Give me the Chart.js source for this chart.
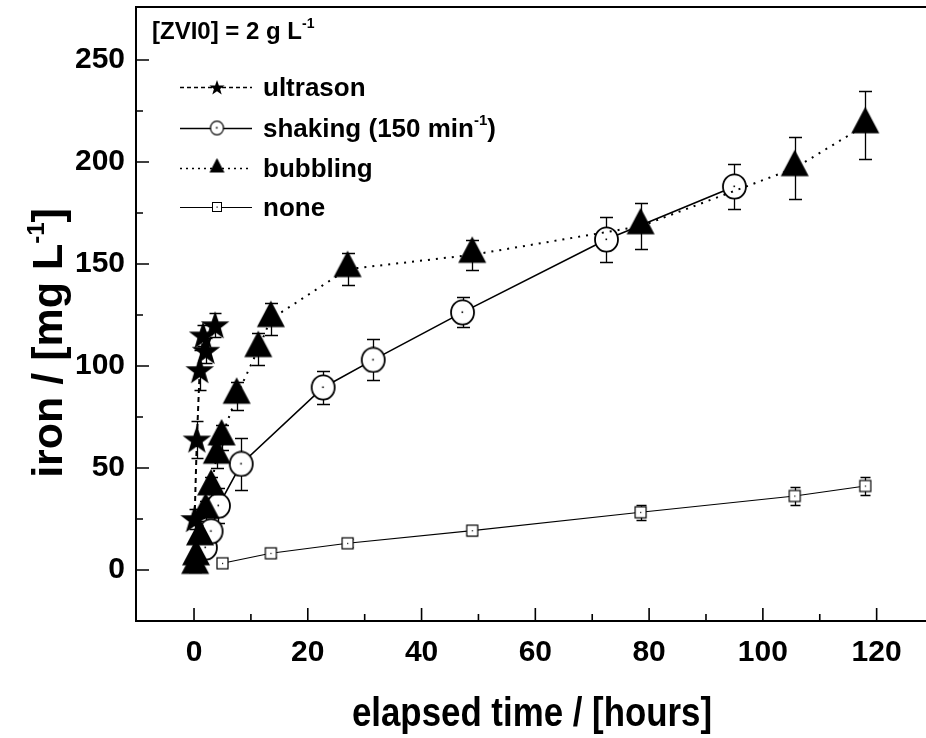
<!DOCTYPE html>
<html>
<head>
<meta charset="utf-8">
<title>iron vs elapsed time</title>
<script src="https://cdn.jsdelivr.net/npm/chart.js@4.4.1/dist/chart.umd.min.js"></script>
<style>
  html, body { margin: 0; padding: 0; background: #fff; }
  canvas { display: block; }
</style>
</head>
<body>
<canvas id="ironChart" width="926" height="738"></canvas>
<script>
// elapsed time [hours], iron [mg/L], error bar half-height [mg/L]
const ultraTime = [0.1, 0.5, 1.0, 1.6, 2.1, 3.7];
const ultraIron = [25, 64, 98, 115, 107.5, 120];
const ultraErr  = [5, 9, 10, 5, 6, 6];

const shakeTime = [2.0, 3.0, 4.3, 8.3, 22.7, 31.5, 47.2, 72.5, 95.0];
const shakeIron = [11, 19, 31.5, 52, 89.5, 103, 126.3, 162, 188];
const shakeErr  = [4, 5, 8.5, 12.7, 8, 10, 7.4, 11, 11];

const bubbleTime = [0.2, 0.35, 1.05, 2.05, 3.0, 4.0, 4.85, 7.5, 11.3, 13.5, 27.0, 48.9, 78.5, 105.6, 118.0];
const bubbleIron = [2, 6.2, 16, 29, 40.5, 56, 65, 85.4, 108.3, 123, 147.5, 154.5, 168.5, 197, 218];
const bubbleErr  = [3, 3, 4, 5, 5, 6, 6, 7, 8, 8, 8, 7.5, 11.2, 15.3, 16.7];

const noneTime = [5.0, 13.5, 27.0, 48.9, 78.5, 105.6, 118.0];
const noneIron = [3.3, 8.2, 13.1, 19.3, 28.3, 36.3, 41.2];
const noneErr  = [2, 2, 2, 2, 3.7, 4.6, 4.3];

const xTicks = [0, 20, 40, 60, 80, 100, 120];
const xMinor = [10, 30, 50, 70, 90, 110];
const yTicks = [0, 50, 100, 150, 200, 250];
const yMinor = [25, 75, 125, 175, 225];

const FONT = "'Liberation Sans', Arial, Helvetica, sans-serif";

function toPoints(xs, ys) {
  return xs.map((x, i) => ({ x: x, y: ys[i] }));
}

function makeCanvas(w, h) {
  const c = document.createElement('canvas');
  c.width = w;
  c.height = h;
  return c;
}

// marker images
function starMarker(r) {
  const s = Math.ceil(r * 2 + 2);
  const c = makeCanvas(s, s);
  const g = c.getContext('2d');
  g.fillStyle = '#000';
  g.beginPath();
  for (let i = 0; i < 10; i++) {
    const rr = i % 2 ? r * 0.4 : r;
    const a = -Math.PI / 2 + i * Math.PI / 5;
    g.lineTo(s / 2 + rr * Math.cos(a), s / 2 + 1 + rr * Math.sin(a));
  }
  g.closePath();
  g.fill();
  return c;
}

function circleMarker(r, lw) {
  const s = Math.ceil(r * 2 + lw + 2);
  const c = makeCanvas(s, s);
  const g = c.getContext('2d');
  g.fillStyle = '#fff';
  g.strokeStyle = '#000';
  g.lineWidth = lw;
  g.beginPath();
  g.ellipse(s / 2, s / 2, r, r * 1.06, 0, 0, Math.PI * 2);
  g.fill();
  g.stroke();
  g.fillStyle = '#000';
  g.fillRect(s / 2 - 1, s / 2 - 1, 1.6, 1.6);
  return c;
}

function triMarker(w, up, down) {
  const h = Math.ceil(Math.max(up, down) * 2 + 2);
  const cw = Math.ceil(w + 2);
  const c = makeCanvas(cw, h);
  const g = c.getContext('2d');
  g.fillStyle = '#000';
  g.beginPath();
  g.moveTo(cw / 2, h / 2 - up);
  g.lineTo(cw / 2 + w / 2, h / 2 + down);
  g.lineTo(cw / 2 - w / 2, h / 2 + down);
  g.closePath();
  g.fill();
  return c;
}

function squareMarker(size, lw) {
  const s = Math.ceil(size + lw + 2);
  const c = makeCanvas(s, s);
  const g = c.getContext('2d');
  g.fillStyle = '#fff';
  g.strokeStyle = '#000';
  g.lineWidth = lw;
  g.fillRect(s / 2 - size / 2, s / 2 - size / 2, size, size);
  g.strokeRect(s / 2 - size / 2, s / 2 - size / 2, size, size);
  g.fillStyle = '#000';
  g.fillRect(s / 2 - 0.5, s / 2 - 0.5, 1.2, 1.2);
  return c;
}

const starImg = starMarker(15);
const circleImg = circleMarker(11.5, 1.8);
const triImg = triMarker(28, 18.5, 8);
const squareImg = squareMarker(11, 1.2);

const starLeg = starMarker(8);
const circleLeg = circleMarker(6.5, 1.2);
const triLeg = triMarker(15, 10, 4.5);
const squareLeg = squareMarker(9, 1);

function drawRich(ctx, parts, x, y, align) {
  let total = 0;
  parts.forEach(p => { ctx.font = p[1]; total += ctx.measureText(p[0]).width; });
  let cx = align === 'center' ? x - total / 2 : x;
  parts.forEach(p => {
    ctx.font = p[1];
    ctx.fillText(p[0], cx, y + (p[2] || 0));
    cx += ctx.measureText(p[0]).width;
  });
}

const errorBars = {
  id: 'errorBars',
  beforeDatasetsDraw(chart) {
    const ctx = chart.ctx;
    const xs = chart.scales.x, ys = chart.scales.y;
    ctx.save();
    ctx.strokeStyle = '#000';
    ctx.lineWidth = 1.3;
    chart.data.datasets.forEach(ds => {
      const cap = ds.capHalf;
      ds.data.forEach((p, i) => {
        const x = Math.round(xs.getPixelForValue(p.x)) + 0.5;
        const y1 = Math.round(ys.getPixelForValue(p.y - ds.errors[i])) + 0.5;
        const y2 = Math.round(ys.getPixelForValue(p.y + ds.errors[i])) + 0.5;
        ctx.beginPath();
        ctx.moveTo(x, y1); ctx.lineTo(x, y2);
        ctx.moveTo(x - cap, y1); ctx.lineTo(x + cap, y1);
        ctx.moveTo(x - cap, y2); ctx.lineTo(x + cap, y2);
        ctx.stroke();
      });
    });
    ctx.restore();
  }
};

const frameAndText = {
  id: 'frameAndText',
  afterDraw(chart) {
    const ctx = chart.ctx;
    const a = chart.chartArea;
    const xs = chart.scales.x, ys = chart.scales.y;
    ctx.save();
    ctx.strokeStyle = '#000';
    ctx.lineWidth = 2;
    ctx.beginPath();
    ctx.moveTo(a.right + 2, a.top);
    ctx.lineTo(a.left, a.top);
    ctx.lineTo(a.left, a.bottom);
    ctx.lineTo(a.right + 2, a.bottom);
    ctx.stroke();

    // inward ticks
    ctx.lineWidth = 1.6;
    ctx.beginPath();
    yTicks.forEach(v => { const y = ys.getPixelForValue(v); ctx.moveTo(a.left, y); ctx.lineTo(a.left + 13, y); });
    yMinor.forEach(v => { const y = ys.getPixelForValue(v); ctx.moveTo(a.left, y); ctx.lineTo(a.left + 7, y); });
    xTicks.forEach(v => { const x = xs.getPixelForValue(v); ctx.moveTo(x, a.bottom); ctx.lineTo(x, a.bottom - 13); });
    xMinor.forEach(v => { const x = xs.getPixelForValue(v); ctx.moveTo(x, a.bottom); ctx.lineTo(x, a.bottom - 7); });
    ctx.stroke();

    ctx.fillStyle = '#000';
    ctx.textAlign = 'left';
    ctx.textBaseline = 'alphabetic';

    // axis titles
    ctx.save();
    ctx.translate(47, 343);
    ctx.rotate(-Math.PI / 2);
    drawRich(ctx, [
      ['iron / [mg L', 'bold 43px ' + FONT],
      ['-1', 'bold 24px ' + FONT, -18],
      [']', 'bold 43px ' + FONT]
    ], 0, 15, 'center');
    ctx.restore();

    ctx.save();
    ctx.translate(532, 726);
    ctx.scale(0.85, 1);
    drawRich(ctx, [['elapsed time / [hours]', 'bold 41px ' + FONT]], 0, 0, 'center');
    ctx.restore();

    // annotation
    drawRich(ctx, [
      ['[ZVI0] = 2 g L', 'bold 24px ' + FONT],
      ['-1', 'bold 14px ' + FONT, -11]
    ], 152, 39, 'left');

    // legend
    const rows = [
      { y: 87, img: starLeg, dash: [4, 3], lw: 1.6, parts: [['ultrason', 'bold 26px ' + FONT]] },
      { y: 128, img: circleLeg, dash: [], lw: 1.6, parts: [['shaking (150 min', 'bold 26px ' + FONT], ['-1', 'bold 15px ' + FONT, -12], [')', 'bold 26px ' + FONT]] },
      { y: 168, img: triLeg, dash: [2, 4], lw: 1.6, parts: [['bubbling', 'bold 26px ' + FONT]] },
      { y: 207, img: squareLeg, dash: [], lw: 1.1, parts: [['none', 'bold 26px ' + FONT]] }
    ];
    rows.forEach(r => {
      ctx.save();
      ctx.lineWidth = r.lw;
      ctx.setLineDash(r.dash);
      ctx.beginPath();
      ctx.moveTo(180, r.y + 0.5);
      ctx.lineTo(252, r.y + 0.5);
      ctx.stroke();
      ctx.restore();
      ctx.drawImage(r.img, 217 - r.img.width / 2, r.y - r.img.height / 2);
      drawRich(ctx, r.parts, 263, r.y + 9, 'left');
    });
    ctx.restore();
  }
};

const tickFont = { family: FONT, size: 30, weight: 'bold' };

// small radius keeps Chart.js from reserving extra room round the plot
const pointBase = { pointRadius: 1, pointHoverRadius: 1, pointBorderWidth: 0, pointHitRadius: 4 };

new Chart(document.getElementById('ironChart'), {
  type: 'scatter',
  data: {
    datasets: [
      Object.assign({
        label: 'ultrason',
        data: toPoints(ultraTime, ultraIron),
        errors: ultraErr, capHalf: 6,
        showLine: true, borderColor: '#000', borderWidth: 2, borderDash: [5, 4],
        pointStyle: starImg, order: 0
      }, pointBase),
      Object.assign({
        label: 'shaking (150 min-1)',
        data: toPoints(shakeTime, shakeIron),
        errors: shakeErr, capHalf: 6.5,
        showLine: true, borderColor: '#000', borderWidth: 1.6,
        pointStyle: circleImg, order: 2
      }, pointBase),
      Object.assign({
        label: 'bubbling',
        data: toPoints(bubbleTime, bubbleIron),
        errors: bubbleErr, capHalf: 6.5,
        showLine: true, borderColor: '#000', borderWidth: 2, borderDash: [2, 6],
        pointStyle: triImg, order: 1
      }, pointBase),
      Object.assign({
        label: 'none',
        data: toPoints(noneTime, noneIron),
        errors: noneErr, capHalf: 5,
        showLine: true, borderColor: '#000', borderWidth: 1.1,
        pointStyle: squareImg, order: 3
      }, pointBase)
    ]
  },
  options: {
    responsive: false,
    animation: false,
    layout: { padding: { top: 7, right: 0, left: 0, bottom: 0 } },
    plugins: { legend: { display: false }, tooltip: { enabled: false } },
    scales: {
      x: {
        type: 'linear', min: -10.2, max: 128.5,
        afterBuildTicks: s => { s.ticks = xTicks.map(v => ({ value: v })); },
        afterFit: s => { s.height = 117; s.paddingLeft = 0; s.paddingRight = 0; },
        grid: { display: false, drawTicks: false },
        border: { display: false },
        ticks: { font: tickFont, color: '#000', padding: 14, maxRotation: 0, autoSkip: false }
      },
      y: {
        type: 'linear', min: -25, max: 276,
        afterBuildTicks: s => { s.ticks = yTicks.map(v => ({ value: v })); },
        afterFit: s => { s.width = 136; s.paddingTop = 0; s.paddingBottom = 0; },
        grid: { display: false, drawTicks: false },
        border: { display: false },
        ticks: { font: tickFont, color: '#000', padding: 11, autoSkip: false }
      }
    }
  },
  plugins: [errorBars, frameAndText]
});
</script>
</body>
</html>
